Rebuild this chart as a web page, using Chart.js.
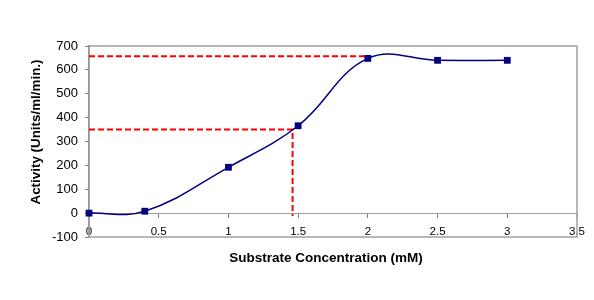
<!DOCTYPE html>
<html>
<head>
<meta charset="utf-8">
<script src="https://cdn.jsdelivr.net/npm/chart.js@4"></script>
<style>
html,body{margin:0;padding:0;background:#fff;}
#wrap{width:594px;height:300px;position:relative;}
</style>
</head>
<body>
<div id="wrap"><canvas id="c" width="594" height="300"></canvas></div>
<script>
// Data
const concentration = [0, 0.4, 1, 1.5, 2, 2.5, 3];
const activity = [0, 8, 192, 366, 648, 640, 640];
const upperGuideX = [0, 2];
const upperGuideY = [657, 657];
const lowerGuideX = [0, 1.46, 1.46];
const lowerGuideY = [350, 350, -12];
const xTitle = 'Substrate Concentration (mM)';
const yTitle = 'Activity (Units/ml/min.)';

const toPts = (xs, ys) => xs.map((x, i) => ({x: x, y: ys[i]}));

const FONT = '"Liberation Sans", Arial, sans-serif';

const decor = {
  id: 'decor',
  beforeDatasetsDraw(chart) {
    const a = chart.chartArea, ctx = chart.ctx;
    ctx.save();
    ctx.strokeStyle = '#a0a0a0';
    ctx.lineWidth = 1.5;
    ctx.strokeRect(a.left, a.top, a.right - a.left, a.bottom - a.top);
    ctx.restore();
  },
  afterDraw(chart) {
    const ctx = chart.ctx;
    ctx.save();
    ctx.fillStyle = '#000';
    ctx.font = 'bold 13.5px ' + FONT;
    ctx.textAlign = 'center';
    ctx.textBaseline = 'middle';
    ctx.fillText(xTitle, 326, 258);
    ctx.translate(36, 132);
    ctx.rotate(-Math.PI / 2);
    ctx.font = 'bold 13.4px ' + FONT;
    ctx.fillText(yTitle, 0, 0);
    ctx.restore();
  }
};

new Chart(document.getElementById('c'), {
  type: 'scatter',
  data: {
    datasets: [
      {
        data: toPts(concentration, activity),
        showLine: true,
        borderColor: '#000080',
        backgroundColor: '#000080',
        borderWidth: 1.5,
        tension: 0.4,
        pointStyle: 'rect',
        pointRadius: 4.8,
        pointBorderWidth: 0,
        clip: false,
        order: 0
      },
      {
        data: toPts(upperGuideX, upperGuideY),
        showLine: true,
        borderColor: '#ff0000',
        borderWidth: 2,
        borderDash: [6, 3],
        pointRadius: 0,
        tension: 0,
        order: 1
      },
      {
        data: toPts(lowerGuideX, lowerGuideY),
        showLine: true,
        borderColor: '#ff0000',
        borderWidth: 2,
        borderDash: [6, 3],
        pointRadius: 0,
        tension: 0,
        order: 1
      }
    ]
  },
  options: {
    responsive: false,
    animation: false,
    layout: {padding: {left: 0, right: 17, top: 46, bottom: 63}},
    plugins: {legend: {display: false}, tooltip: {enabled: false}},
    scales: {
      x: {
        type: 'linear',
        min: 0, max: 3.5,
        position: {y: 0},
        ticks: {stepSize: 0.5, autoSkip: false, maxRotation: 0, padding: 8,
                color: '#000', font: {family: FONT, size: 11.5},
                callback: v => String(v)},
        grid: {drawOnChartArea: false, drawTicks: true, tickLength: 4, color: '#808080'},
        border: {display: true, color: '#a0a0a0', width: 1}
      },
      y: {
        type: 'linear',
        min: -100, max: 700,
        ticks: {stepSize: 100, padding: 7, color: '#000', font: {family: FONT, size: 13},
                callback: v => String(v)},
        grid: {drawOnChartArea: false, drawTicks: true, tickLength: 4, color: '#808080'},
        border: {display: true, color: '#808080', width: 1.5},
        afterFit(scale) { scale.width = 89; }
      }
    }
  },
  plugins: [decor]
});
</script>
</body>
</html>
